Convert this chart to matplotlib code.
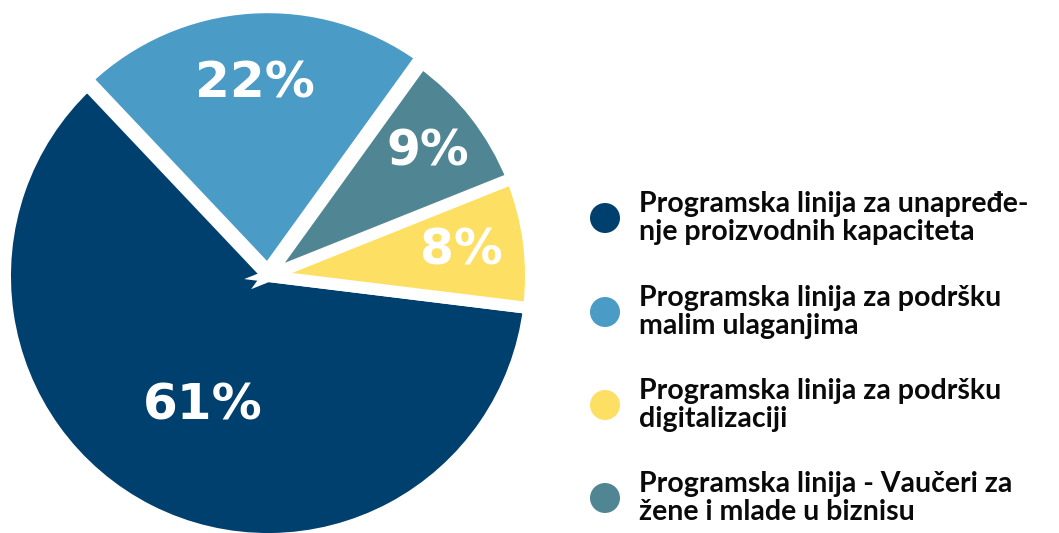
import matplotlib
matplotlib.use("Agg")
import matplotlib.pyplot as plt
import numpy as np

# ---- data ----
categories = [
    "Programska linija za unapređe-\nnje proizvodnih kapaciteta",
    "Programska linija za podršku\nmalim ulaganjima",
    "Programska linija za podršku\ndigitalizaciji",
    "Programska linija - Vaučeri za\nžene i mlade u biznisu",
]
shares = [61, 22, 8, 9]
pct_labels = ["61%", "22%", "8%", "9%"]
colors = ["#00406E", "#4A9BC6", "#FDE063", "#508694"]

# drawing order of the slices (counter-clockwise from the start angle)
pie_order = [0, 2, 3, 1]
explode = [0.0, 0.022, 0.0, 0.0]
label_dist = [0.55, 0.735, 0.74, 0.77]
label_size = [36, 36, 35, 35]

W, H = 1059, 533
fig = plt.figure(figsize=(W / 100, H / 100), dpi=100)

# pie axes: centre (268, 276) px, radius R px
cx, cy, R = 268, 276, 263
lim = 1.1
ax = fig.add_axes([(cx - R * lim) / W, (H - cy - R * lim) / H,
                   2 * R * lim / W, 2 * R * lim / H])

vals = [shares[i] for i in pie_order]
cols = [colors[i] for i in pie_order]
exps = [explode[i] for i in pie_order]
wedges, _ = ax.pie(vals, colors=cols, startangle=133.4, counterclock=True,
                   explode=exps, radius=1.0, normalize=True,
                   wedgeprops=dict(edgecolor="white", linewidth=8.6))
ax.set_xlim(-lim, lim)
ax.set_ylim(-lim, lim)
ax.axis("off")
for w in wedges:
    w.set_clip_on(False)

for w, idx in zip(wedges, pie_order):
    mid = np.deg2rad((w.theta1 + w.theta2) / 2)
    r = label_dist[idx]
    ax.text(r * np.cos(mid), r * np.sin(mid), pct_labels[idx],
            ha="center", va="center", color="white", fontsize=label_size[idx],
            fontweight="bold", family="DejaVu Sans")

# legend
lax = fig.add_axes([0, 0, 1, 1])
lax.set_xlim(0, W)
lax.set_ylim(H, 0)
lax.axis("off")
row_y = [218, 312, 405, 498]
for lab, col, y in zip(categories, colors, row_y):
    lax.scatter([605], [y], s=(30 * 0.72) ** 2, color=col, edgecolor="none")
    lax.text(639, y, lab, ha="left", va="center", fontsize=20.5,
             fontweight="bold", family="Lato", color="#0a0a0a",
             linespacing=1.05)

fig.savefig("out.png", dpi=100)
